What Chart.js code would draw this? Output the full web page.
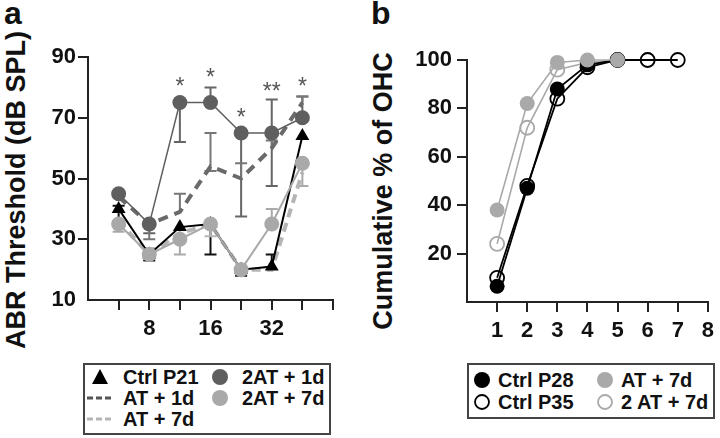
<!DOCTYPE html>
<html><head><meta charset="utf-8">
<script src="https://cdn.jsdelivr.net/npm/chart.js@4.4.1/dist/chart.umd.min.js"></script>
<style>
html,body{margin:0;padding:0;background:#fff;}
body{width:720px;height:438px;position:relative;overflow:hidden;font-family:"Liberation Sans",Arial,sans-serif;color:#111;}
#ca{position:absolute;left:0;top:0;}
#cb{position:absolute;left:360px;top:0;}
.panel{position:absolute;font-weight:bold;font-size:32px;line-height:1;}
.ytitle{position:absolute;font-weight:bold;font-size:27px;white-space:nowrap;transform:translate(-50%,-50%) rotate(-90deg);line-height:1;}
.legend{position:absolute;border:2px solid #444;box-sizing:border-box;font-weight:bold;font-size:20px;}
.mk{position:absolute;transform:translate(-50%,-50%);display:block;}
.lt{position:absolute;white-space:nowrap;line-height:20px;height:20px;}
</style></head>
<body>
<div class="panel" style="left:4px;top:-3px;">a</div>
<div class="panel" style="left:371px;top:-3px;">b</div>
<div class="ytitle" style="left:16px;top:190px;">ABR Threshold (dB SPL)</div>
<div class="ytitle" style="left:383px;top:191px;">Cumulative % of OHC</div>
<canvas id="ca" width="360" height="350"></canvas>
<canvas id="cb" width="360" height="350"></canvas>

<div class="legend" style="left:83px;top:363px;width:248px;height:72px;">
  <svg class="mk" style="left:15px;top:12px" width="18" height="18"><polygon points="9,1 17,16 1,16" fill="#000"/></svg>
  <span class="lt" style="left:38px;top:2px">Ctrl P21</span>
  <svg class="mk" style="left:15px;top:33px" width="30" height="8"><line x1="2" y1="4" x2="29" y2="4" stroke="#555" stroke-width="3" stroke-dasharray="6,3"/></svg>
  <span class="lt" style="left:38px;top:23px">AT + 1d</span>
  <svg class="mk" style="left:15px;top:54px" width="30" height="8"><line x1="2" y1="4" x2="29" y2="4" stroke="#b5b5b5" stroke-width="3" stroke-dasharray="6,3"/></svg>
  <span class="lt" style="left:38px;top:44px">AT + 7d</span>
  <svg class="mk" style="left:135px;top:12px" width="18" height="18"><circle cx="9" cy="9" r="8" fill="#5f5f5f"/></svg>
  <span class="lt" style="left:157px;top:2px">2AT + 1d</span>
  <svg class="mk" style="left:135px;top:33px" width="18" height="18"><circle cx="9" cy="9" r="8" fill="#a9a9a9"/></svg>
  <span class="lt" style="left:157px;top:23px">2AT + 7d</span>
</div>

<div class="legend" style="left:467px;top:363px;width:248px;height:56px;">
  <svg class="mk" style="left:13px;top:15px" width="18" height="18"><circle cx="9" cy="9" r="8" fill="#000"/></svg>
  <span class="lt" style="left:29px;top:5px">Ctrl P28</span>
  <svg class="mk" style="left:13px;top:37px" width="18" height="18"><circle cx="9" cy="9" r="7" fill="none" stroke="#000" stroke-width="1.8"/></svg>
  <span class="lt" style="left:29px;top:27px">Ctrl P35</span>
  <svg class="mk" style="left:136px;top:15px" width="18" height="18"><circle cx="9" cy="9" r="8" fill="#a9a9a9"/></svg>
  <span class="lt" style="left:152px;top:5px">AT + 7d</span>
  <svg class="mk" style="left:136px;top:37px" width="18" height="18"><circle cx="9" cy="9" r="7" fill="none" stroke="#a9a9a9" stroke-width="1.8"/></svg>
  <span class="lt" style="left:152px;top:27px">2 AT + 7d</span>
</div>

<script>
// ---------- Panel a data ----------
const freqPos = [1, 2, 3, 4, 5, 6, 7];
const freqTickLabels = ['', '', '8', '', '16', '', '32', '', ''];
const yTicksA = [10, 30, 50, 70, 90];

const ctrlP21   = [40, 25, 34, 35, 20, 21, 64];
const ctrlP21Lo = [36, 23, null, 25, 18, null, null];
const ctrlP21Hi = [41, null, null, null, null, 25, null];

const at1d   = [44, 35, 39, 54, 50, 60, 75];
const at1dLo = [null, 30, null, 52.5, null, null, null];
const at1dHi = [null, null, 45, 65, 55, 62.5, 77];

const at7d   = [36, 25, 32, 35, 20, 20, 52];
const at7dLo = [null, null, null, 31, null, null, null];
const at7dHi = [null, null, null, null, null, null, null];

const twoAt1d   = [45, 35, 75, 75, 65, 65, 70];
const twoAt1dLo = [null, 32, 62, null, 37.5, 47.5, null];
const twoAt1dHi = [null, null, null, 80, null, 76, 77];

const twoAt7d   = [35, 25, 30, 35, 20, 35, 55];
const twoAt7dLo = [32.5, null, 25, null, null, null, 47.5];
const twoAt7dHi = [null, 27, null, null, null, 40, null];

const sigMarks = ['', '', '*', '*', '*', '**', '*'];
const sigLevel = [null, null, 82, 85, 72, 80.5, 82];

// ---------- Panel b data ----------
const binPos = [1, 2, 3, 4, 5, 6, 7];
const binTickLabels = ['', '1', '2', '3', '4', '5', '6', '7', '8'];
const ctrlP28 = [6.5, 47, 88, 98, 100];
const ctrlP35 = [10, 48, 84, 97, 100, 100, 100];
const atPlus7d = [38, 82, 99, 100, 100];
const twoAtPlus7d = [24, 72, 96, 99, 100, 100];

const FAMILY = '"Liberation Sans", Arial, sans-serif';
Chart.defaults.font.family = FAMILY;

function pts(xs, ys) { return ys.map((y, i) => ({ x: xs[i], y })); }

const errorBars = {
  id: 'errorBars',
  beforeDatasetsDraw(chart) {
    const ctx = chart.ctx, ys = chart.scales.y;
    chart.data.datasets.forEach((ds, di) => {
      if (!ds.errLo && !ds.errHi) return;
      const meta = chart.getDatasetMeta(di);
      ctx.save();
      ctx.strokeStyle = ds.errColor; ctx.lineWidth = 2;
      meta.data.forEach((el, i) => {
        const cy = el.y, cx = el.x;
        [ds.errLo ? ds.errLo[i] : null, ds.errHi ? ds.errHi[i] : null].forEach(v => {
          if (v === null || v === undefined) return;
          const py = ys.getPixelForValue(v);
          ctx.beginPath(); ctx.moveTo(cx, cy); ctx.lineTo(cx, py);
          ctx.moveTo(cx - 6, py); ctx.lineTo(cx + 6, py); ctx.stroke();
        });
      });
      ctx.restore();
    });
  }
};

const sigStars = {
  id: 'sigStars',
  afterDatasetsDraw(chart) {
    const ctx = chart.ctx, xs = chart.scales.x, ys = chart.scales.y;
    ctx.save();
    ctx.fillStyle = '#555'; ctx.font = '23px ' + FAMILY;
    ctx.textAlign = 'center'; ctx.textBaseline = 'alphabetic';
    sigMarks.forEach((m, i) => {
      if (!m) return;
      ctx.fillText(m, xs.getPixelForValue(freqPos[i]), ys.getPixelForValue(sigLevel[i]) + 13);
    });
    ctx.restore();
  }
};

function axisCommon(extra) {
  return Object.assign({
    grid: {
      drawOnChartArea: false, drawTicks: true, tickLength: 10, lineWidth: 2,
      color: c => (c.tick && c.tick.value === c.scale.min) ? 'rgba(0,0,0,0)' : '#222'
    },
    border: { display: true, color: '#222', width: 2 }
  }, extra);
}

new Chart(document.getElementById('ca'), {
  type: 'line',
  data: {
    datasets: [
      { label: '2AT + 7d', data: pts(freqPos, twoAt7d), borderColor: '#a9a9a9', backgroundColor: '#a9a9a9',
        borderWidth: 2, pointRadius: 7.5, pointBorderWidth: 0, errLo: twoAt7dLo, errHi: twoAt7dHi, errColor: '#aaaaaa' },
      { label: 'Ctrl P21', data: pts(freqPos, ctrlP21), borderColor: '#000', backgroundColor: '#000',
        borderWidth: 2, pointStyle: 'triangle', pointRadius: 8, pointBorderWidth: 0, errLo: ctrlP21Lo, errHi: ctrlP21Hi, errColor: '#111' },
      { label: 'AT + 7d', data: pts(freqPos, at7d), borderColor: '#b5b5b5', borderDash: [9, 6],
        borderWidth: 4, pointRadius: 0, errLo: at7dLo, errHi: at7dHi, errColor: '#b5b5b5' },
      { label: '2AT + 1d', data: pts(freqPos, twoAt1d), borderColor: '#5f5f5f', backgroundColor: '#5f5f5f',
        borderWidth: 1.5, pointRadius: 7.5, pointBorderWidth: 0, errLo: twoAt1dLo, errHi: twoAt1dHi, errColor: '#666' },
      { label: 'AT + 1d', data: pts(freqPos, at1d), borderColor: '#6a6a6a', backgroundColor: '#6a6a6a', borderDash: [10, 7],
        borderWidth: 4, pointRadius: 0, errLo: at1dLo, errHi: at1dHi, errColor: '#777' }
    ].map(d => Object.assign({ clip: false, tension: 0 }, d))
  },
  options: {
    responsive: false, animation: false,
    layout: { padding: { top: 57, right: 27, left: 0, bottom: 0 } },
    plugins: { legend: { display: false }, tooltip: { enabled: false } },
    scales: {
      x: axisCommon({
        type: 'linear', min: 0, max: 8,
        ticks: { stepSize: 1, autoSkip: false, maxRotation: 0, padding: 6, color: '#111',
          font: { size: 22, weight: 'bold' }, callback: v => freqTickLabels[v] ?? '' },
        afterFit: s => { s.height = 50; }
      }),
      y: axisCommon({
        type: 'linear', min: yTicksA[0], max: yTicksA[yTicksA.length - 1],
        ticks: { stepSize: 20, padding: 2, color: '#111', font: { size: 22, weight: 'bold' } },
        afterFit: s => { s.width = 88; }
      })
    }
  },
  plugins: [errorBars, sigStars]
});

new Chart(document.getElementById('cb'), {
  type: 'line',
  data: {
    datasets: [
      { label: 'AT + 7d', data: pts(binPos, atPlus7d), borderColor: '#a9a9a9', backgroundColor: '#a9a9a9',
        borderWidth: 1.6, pointRadius: 7.5, pointBorderWidth: 0 },
      { label: 'Ctrl P28', data: pts(binPos, ctrlP28), borderColor: '#000', backgroundColor: '#000',
        borderWidth: 1.8, pointRadius: 7.5, pointBorderWidth: 0 },
      { label: 'Ctrl P35', data: pts(binPos, ctrlP35), borderColor: '#000', backgroundColor: 'rgba(0,0,0,0)',
        borderWidth: 1.8, pointRadius: 7, pointBorderWidth: 1.8, pointBorderColor: '#000' },
      { label: '2 AT + 7d', data: pts(binPos, twoAtPlus7d), borderColor: '#a9a9a9', backgroundColor: 'rgba(0,0,0,0)',
        borderWidth: 1.6, pointRadius: 7, pointBorderWidth: 1.8, pointBorderColor: '#a9a9a9' }
    ].map(d => Object.assign({ clip: false, tension: 0 }, d))
  },
  options: {
    responsive: false, animation: false,
    layout: { padding: { top: 60, right: 8, left: 0, bottom: 0 } },
    plugins: { legend: { display: false }, tooltip: { enabled: false } },
    scales: {
      x: axisCommon({
        type: 'linear', min: 0, max: 8,
        ticks: { stepSize: 1, autoSkip: false, maxRotation: 0, padding: 6, color: '#111',
          font: { size: 22, weight: 'bold' }, callback: v => binTickLabels[v] ?? '' },
        afterFit: s => { s.height = 48; }
      }),
      y: axisCommon({
        type: 'linear', min: 0, max: 100,
        ticks: { stepSize: 20, padding: 5, color: '#111', font: { size: 22, weight: 'bold' },
          callback: v => v === 0 ? '' : v },
        afterFit: s => { s.width = 107; }
      })
    }
  }
});
</script>
</body></html>
